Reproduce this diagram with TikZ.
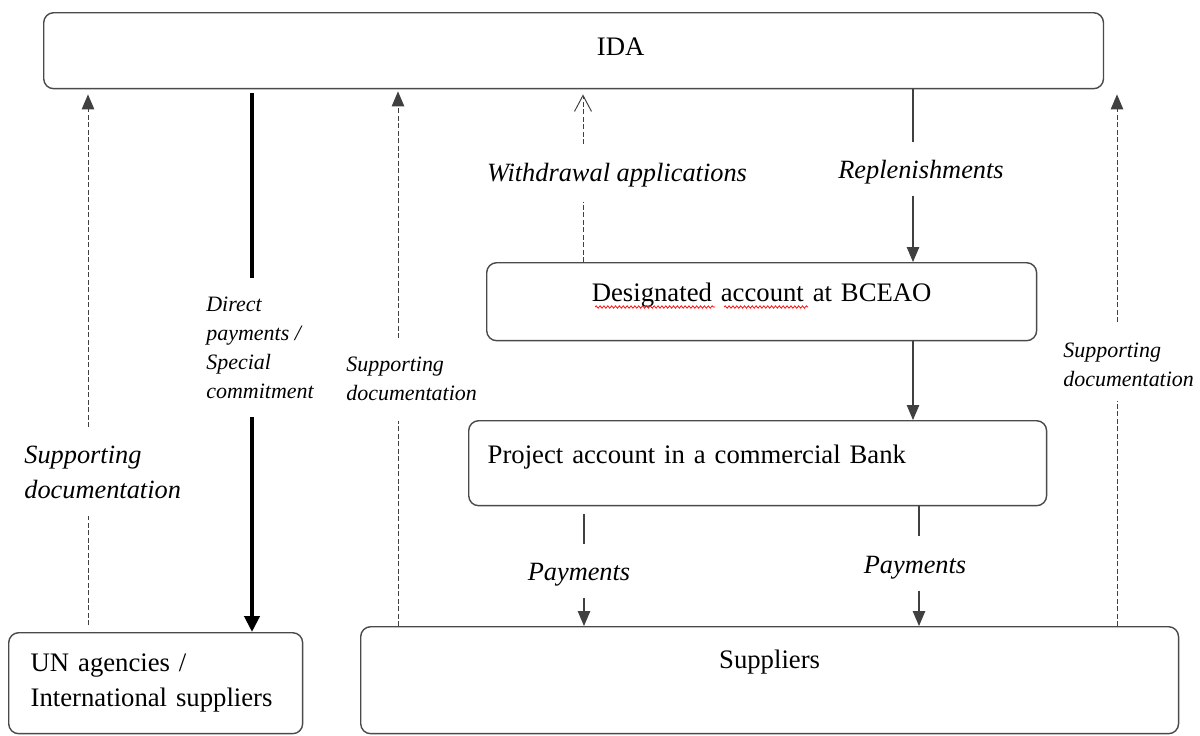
\documentclass[tikz,border=0pt]{standalone}
\usepackage{fontspec}
\setmainfont{Liberation Serif}
\usepackage{tikz}
\usetikzlibrary{
    arrows.meta,
    calc,
    decorations.pathmorphing
}
\definecolor{lineg}{HTML}{404040}
\definecolor{boxg}{HTML}{4A4A4A}
\tikzstyle{box}=[
    rectangle,
    rounded corners=0.2cm,
    anchor=north west,
    inner xsep=0pt,
    inner ysep=0pt,
    draw=boxg,
    line width=0.8pt,
    font=\fontsize{15.2}{19.9}\selectfont
]
\tikzstyle{arrow}=[line width=0.6pt,draw=lineg,-{Triangle[length=0.3cm,width=0.25cm]}]
\tikzstyle{doc}=[line width=0.55pt,draw=lineg,dash pattern=on 0.1cm off 0.05cm]
\begin{document}
\begin{tikzpicture}[
    x=0.02cm,y=-0.02cm,
    biglbl/.style={inner sep=0pt,align=left,font=\fontsize{15}{19.9}\selectfont\itshape},
    smalllbl/.style={inner sep=0pt,align=left,font=\fontsize{12.5}{16.5}\selectfont\itshape},
    tip/.style={-{Triangle[length=0.3cm,width=0.25cm]}},
    plain/.style={line width=0.6pt,draw=lineg},
    gapS/.style={shorten <=#1},
    gapE/.style={shorten >=#1}
]
\useasboundingbox (0,0) rectangle (1200,735);
% boxes
\node[box,text width=21.2cm,align=center,text height=0.86cm,text depth=0.66cm] (ida) at (43,12) {\hspace*{1.88cm}IDA};
\node[box,text width=11cm,align=center,text height=0.78cm,text depth=0.78cm] (desig) at (486,262) {Designated account at BCEAO};
\node[box,inner xsep=0.38cm,text width=10.8cm,align=left,text height=0.86cm,text depth=0.84cm] (proj) at (468,420) {Project account in a commercial Bank};
\node[box,inner xsep=0.44cm,text width=5cm,align=left,minimum height=2.02cm] (un) at (8,632) {UN agencies /\\International suppliers};
\node[box,text width=16.36cm,align=center,text height=0.84cm,text depth=1.3cm] (supp) at (360,626) {Suppliers};
% labels
\node[biglbl,anchor=north] (wd) at (617,163) {Withdrawal applications};
\node[biglbl,anchor=north] (repl) at (921,160) {Replenishments};
\node[biglbl,anchor=north west] (docL) at (24,446) {Supporting\\documentation};
\node[smalllbl,anchor=north west] (direct) at (206,297) {Direct\\payments /\\Special\\commitment};
\node[smalllbl,anchor=north west] (docM) at (346,357) {Supporting\\documentation};
\node[smalllbl,anchor=north west] (docR) at (1063,343) {Supporting\\documentation};
\node[biglbl,anchor=north] (pay1) at (579,563) {Payments};
\node[biglbl,anchor=north] (pay2) at (915,556) {Payments};
% columns of the connectors
\coordinate (colA) at (88,0);
\coordinate (colB) at (252,0);
\coordinate (colC) at (398,0);
\coordinate (colD) at (583,0);
\coordinate (colE) at (913,0);
\coordinate (colF) at (1117,0);
\coordinate (colP) at (584,0);
\coordinate (colQ) at (919,0);
% supporting documentation, left
\draw[doc,gapS=0.14cm,gapE=0.34cm] (un.north -| colA) -- (docL.south -| colA);
\draw[doc,tip,gapS=0.38cm,gapE=0.1cm] (docL.north -| colA) -- (ida.south -| colA);
% direct payments
\draw[line width=2.6pt,gapS=0.08cm,gapE=0.38cm] (ida.south -| colB) -- (direct.north -| colB);
\draw[line width=2.6pt,-{Triangle[length=0.32cm,width=0.3cm]},gapS=0.36cm] (direct.south -| colB) -- (un.north -| colB);
% supporting documentation, middle
\draw[doc,gapE=0.4cm] (supp.north -| colC) -- (docM.south -| colC);
\draw[doc,tip,gapS=0.38cm,gapE=0.04cm] (docM.north -| colC) -- (ida.south -| colC);
% withdrawal applications
\draw[doc,gapE=0.28cm] (desig.north -| colD) -- (wd.south -| colD);
\draw[doc,-{Straight Barb[length=0.32cm,width=0.34cm]},gapS=0.38cm,gapE=0.1cm] (wd.north -| colD) -- (ida.south -| colD);
% replenishments
\draw[plain,gapE=0.36cm] (ida.south -| colE) -- (repl.north -| colE);
\draw[arrow,gapS=0.22cm] (repl.south -| colE) -- (desig.north -| colE);
\draw[arrow] (desig.south -| colE) -- (proj.north -| colE);
% payments
\draw[plain,gapS=0.16cm,gapE=0.38cm] (proj.south -| colP) -- (pay1.north -| colP);
\draw[arrow,gapS=0.22cm] (pay1.south -| colP) -- (supp.north -| colP);
\draw[plain,gapE=0.4cm] (proj.south -| colQ) -- (pay2.north -| colQ);
\draw[arrow,gapS=0.22cm] (pay2.south -| colQ) -- (supp.north -| colQ);
% supporting documentation, right
\draw[doc,gapE=0.26cm] (supp.north -| colF) -- (docR.south -| colF);
\draw[doc,tip,gapS=0.42cm,gapE=0.1cm] (docR.north -| colF) -- (ida.south -| colF);
% spelling marks
\draw[red,line width=0.4pt,decorate,decoration={snake,amplitude=0.7pt,segment length=2.2pt}]
    ($(desig.north west)+(109,45)$) -- ($(desig.north west)+(229,45)$);
\draw[red,line width=0.4pt,decorate,decoration={snake,amplitude=0.7pt,segment length=2.2pt}]
    ($(desig.north west)+(238,45)$) -- ($(desig.north west)+(322,45)$);
\end{tikzpicture}
\end{document}
